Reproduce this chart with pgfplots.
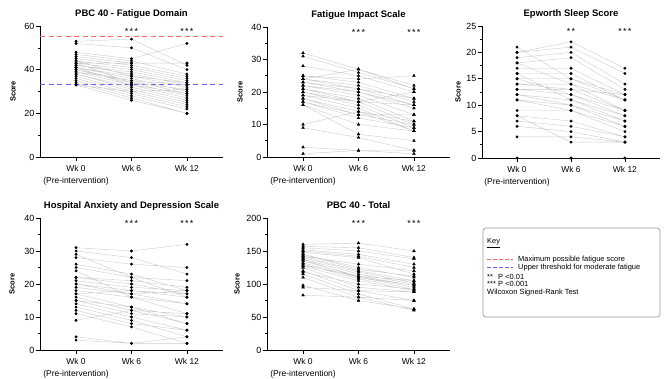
\documentclass[border=0pt]{standalone}
\usepackage{xcolor}
\usepackage{pgfplots}
\pgfplotsset{compat=1.18}
\usepackage{fontspec}
\setmainfont{Liberation Sans}
\begin{document}
\begin{tikzpicture}
\tikzset{stars/.style={anchor=base, font=\fontsize{9}{10}\selectfont}}
\pgfplotsset{
  every axis/.append style={
    scale only axis, axis lines*=left, clip=false,
    anchor=south west,
    xmin=-0.65, xmax=2.65, ymin=0,
    xtick={0,1,2},
    xticklabels={{Wk 0\\(Pre-intervention)},{Wk 6},{Wk 12}},
    xticklabel style={align=center, font=\fontsize{8.5}{12.5}\selectfont, inner sep=1.5bp, yshift=-2.5bp},
    yticklabel style={font=\fontsize{9}{10}\selectfont, inner sep=1.5bp},
    ylabel={Score},
    ylabel style={font=\bfseries\fontsize{7.5}{9}\selectfont, at={(rel axis cs:0,0.5)}, anchor=center},
    title style={font=\bfseries\fontsize{9.5}{11}\selectfont, at={(0.5,1)}, anchor=base, yshift=3.5bp},
    tick align=outside, major tick length=4bp, minor tick length=2bp,
    minor y tick num=1,
    tick style={black, line width=0.6bp},
    axis line style={black, line width=0.8bp},
    /pgf/number format/assume math mode=true,
    unbounded coords=jump,
  },
  ylab/.style={ylabel style={yshift=#1}},
  subjc/.style={black!20, line width=0.4bp, mark=*, mark size=1.25bp, mark options={draw=black, fill=black, solid}},
  subjt/.style={black!20, line width=0.4bp, mark=triangle*, mark size=1.6bp, mark options={draw=black, fill=black, solid}},
}
\path[use as bounding box] (0,0) rectangle (664bp,379bp);

% ---------- Panel 1 ----------
\begin{axis}[at={(40bp,222bp)}, width=183bp, height=131bp,
  ymax=60, ytick={0,20,40,60}, title={PBC 40 - Fatigue Domain}, ylab=27bp]
\addplot[red!60, line width=0.9bp, dash pattern=on 5bp off 3.5bp] coordinates {(-0.65,55) (2.65,55)};
\addplot[blue!60, line width=0.9bp, dash pattern=on 5bp off 3.5bp] coordinates {(-0.65,33) (2.65,33)};
\addplot[subjc] coordinates {
(0,53) (1,54) (2,42) (0,nan)
(0,52) (1,50) (2,40) (0,nan)
(0,48) (1,45) (2,52) (0,nan)
(0,47) (1,44) (2,38) (0,nan)
(0,46) (1,43) (2,43) (0,nan)
(0,45) (1,42) (2,37) (0,nan)
(0,44) (1,41) (2,36) (0,nan)
(0,43) (1,43) (2,43) (0,nan)
(0,43) (1,40) (2,35) (0,nan)
(0,42) (1,39) (2,34) (0,nan)
(0,42) (1,38) (2,33) (0,nan)
(0,41) (1,37) (2,32) (0,nan)
(0,41) (1,36) (2,30) (0,nan)
(0,40) (1,35) (2,29) (0,nan)
(0,40) (1,34) (2,28) (0,nan)
(0,39) (1,33) (2,27) (0,nan)
(0,38) (1,32) (2,26) (0,nan)
(0,38) (1,31) (2,25) (0,nan)
(0,37) (1,30) (2,24) (0,nan)
(0,36) (1,29) (2,23) (0,nan)
(0,35) (1,28) (2,22) (0,nan)
(0,34) (1,27) (2,20) (0,nan)
(0,33) (1,26) (2,20) (0,nan)
(0,33) (1,30) (2,31) (0,nan)
(0,44) (1,37) (2,34) (0,nan)
(0,43) (1,34) (2,31) (0,nan)
(0,41) (1,33) (2,29) (0,nan)
(0,39) (1,35) (2,33) (0,nan)
};
\node[stars] at (axis cs:1,56.2) {*\hspace{1.3bp}*\hspace{1.3bp}*};
\node[stars] at (axis cs:2,56.2) {*\hspace{1.3bp}*\hspace{1.3bp}*};
\end{axis}

% ---------- Panel 2 ----------
\begin{axis}[at={(267bp,222bp)}, width=183bp, height=130bp,
  ymax=40, ytick={0,10,20,30,40}, title={Fatigue Impact Scale}, ylab=27bp]
\addplot[subjt] coordinates {
(0,32) (1,27) (2,22) (0,nan)
(0,31) (1,26) (2,21) (0,nan)
(0,28) (1,25) (2,20) (0,nan)
(0,25) (1,24) (2,25) (0,nan)
(0,25) (1,23) (2,18) (0,nan)
(0,24) (1,22) (2,17) (0,nan)
(0,24) (1,21) (2,16) (0,nan)
(0,23) (1,20) (2,16) (0,nan)
(0,22) (1,20) (2,15) (0,nan)
(0,22) (1,19) (2,13) (0,nan)
(0,21) (1,18) (2,11) (0,nan)
(0,20) (1,17) (2,10) (0,nan)
(0,20) (1,16) (2,9) (0,nan)
(0,19) (1,15) (2,8) (0,nan)
(0,18) (1,14) (2,8) (0,nan)
(0,18) (1,13) (2,10) (0,nan)
(0,17) (1,12) (2,9) (0,nan)
(0,16) (1,10) (2,8) (0,nan)
(0,16) (1,7) (2,5) (0,nan)
(0,10) (1,14) (2,11) (0,nan)
(0,9) (1,6) (2,2) (0,nan)
(0,3) (1,2) (2,1) (0,nan)
(0,1) (1,2) (2,2) (0,nan)
(0,21) (1,17) (2,20) (0,nan)
(0,23) (1,21) (2,18) (0,nan)
(0,19) (1,17) (2,16) (0,nan)
(0,17) (1,13) (2,13) (0,nan)
(0,24) (1,27) (2,21) (0,nan)
};
\node[stars] at (axis cs:1,37.4) {*\hspace{1.3bp}*\hspace{1.3bp}*};
\node[stars] at (axis cs:2,37.4) {*\hspace{1.3bp}*\hspace{1.3bp}*};
\end{axis}

% ---------- Panel 3 ----------
\begin{axis}[at={(482bp,221bp)}, width=178bp, height=132bp,
  ymax=25, ytick={0,5,10,15,20,25}, title={Epworth Sleep Score}, ylab=24bp]
\addplot[subjc] coordinates {
(0,21) (1,15) (2,12) (0,nan)
(0,20) (1,22) (2,17) (0,nan)
(0,20) (1,21) (2,16) (0,nan)
(0,19) (1,20) (2,14) (0,nan)
(0,18) (1,19) (2,13) (0,nan)
(0,17) (1,17) (2,12) (0,nan)
(0,16) (1,16) (2,11) (0,nan)
(0,15) (1,15) (2,11) (0,nan)
(0,14) (1,14) (2,9) (0,nan)
(0,13) (1,13) (2,9) (0,nan)
(0,13) (1,12) (2,8) (0,nan)
(0,12) (1,11) (2,7) (0,nan)
(0,11) (1,10) (2,6) (0,nan)
(0,9) (1,9) (2,5) (0,nan)
(0,8) (1,7) (2,4) (0,nan)
(0,7) (1,6) (2,4) (0,nan)
(0,6) (1,5) (2,3) (0,nan)
(0,4) (1,4) (2,3) (0,nan)
(0,0) (1,0) (2,0) (0,nan)
(0,16) (1,11) (2,8) (0,nan)
(0,14) (1,13) (2,12) (0,nan)
(0,11) (1,9) (2,6) (0,nan)
(0,8) (1,3) (2,3) (0,nan)
(0,18) (1,14) (2,11) (0,nan)
(0,12) (1,10) (2,7) (0,nan)
(0,15) (1,12) (2,9) (0,nan)
};
\node[stars] at (axis cs:1,23.4) {*\hspace{1.3bp}*};
\node[stars] at (axis cs:2,23.4) {*\hspace{1.3bp}*\hspace{1.3bp}*};
\end{axis}

% ---------- Panel 4 ----------
\begin{axis}[at={(40bp,29bp)}, width=183bp, height=132bp,
  ymax=40, ytick={0,10,20,30,40}, title={Hospital Anxiety and Depression Scale}, ylab=28bp]
\addplot[subjc] coordinates {
(0,31) (1,30) (2,32) (0,nan)
(0,30) (1,28) (2,23) (0,nan)
(0,28) (1,26) (2,25) (0,nan)
(0,26) (1,23) (2,18) (0,nan)
(0,25) (1,22) (2,21) (0,nan)
(0,22) (1,21) (2,19) (0,nan)
(0,22) (1,20) (2,17) (0,nan)
(0,21) (1,19) (2,18) (0,nan)
(0,20) (1,18) (2,16) (0,nan)
(0,19) (1,17) (2,14) (0,nan)
(0,18) (1,16) (2,11) (0,nan)
(0,17) (1,13) (2,10) (0,nan)
(0,16) (1,12) (2,8) (0,nan)
(0,15) (1,11) (2,10) (0,nan)
(0,14) (1,10) (2,6) (0,nan)
(0,13) (1,9) (2,4) (0,nan)
(0,12) (1,8) (2,6) (0,nan)
(0,11) (1,7) (2,2) (0,nan)
(0,9) (1,12) (2,11) (0,nan)
(0,4) (1,2) (2,2) (0,nan)
(0,3) (1,2) (2,4) (0,nan)
(0,20) (1,17) (2,18) (0,nan)
(0,17) (1,18) (2,17) (0,nan)
(0,29) (1,22) (2,16) (0,nan)
(0,24) (1,16) (2,14) (0,nan)
(0,15) (1,13) (2,8) (0,nan)
};
\node[stars] at (axis cs:1,37.45) {*\hspace{1.3bp}*\hspace{1.3bp}*};
\node[stars] at (axis cs:2,37.45) {*\hspace{1.3bp}*\hspace{1.3bp}*};
\end{axis}

% ---------- Panel 5 ----------
\begin{axis}[at={(267bp,29bp)}, width=183bp, height=132bp,
  ymax=200, ytick={0,50,100,150,200}, title={PBC 40 - Total}, ylab=30bp]
\addplot[subjt] coordinates {
(0,160) (1,162) (2,150) (0,nan)
(0,157) (1,155) (2,140) (0,nan)
(0,155) (1,150) (2,138) (0,nan)
(0,152) (1,145) (2,130) (0,nan)
(0,150) (1,142) (2,125) (0,nan)
(0,148) (1,140) (2,115) (0,nan)
(0,145) (1,125) (2,110) (0,nan)
(0,142) (1,120) (2,105) (0,nan)
(0,140) (1,118) (2,102) (0,nan)
(0,138) (1,115) (2,100) (0,nan)
(0,135) (1,112) (2,98) (0,nan)
(0,132) (1,110) (2,95) (0,nan)
(0,130) (1,108) (2,92) (0,nan)
(0,127) (1,105) (2,90) (0,nan)
(0,125) (1,95) (2,88) (0,nan)
(0,120) (1,90) (2,75) (0,nan)
(0,115) (1,85) (2,62) (0,nan)
(0,110) (1,80) (2,60) (0,nan)
(0,98) (1,75) (2,62) (0,nan)
(0,95) (1,90) (2,88) (0,nan)
(0,83) (1,80) (2,75) (0,nan)
(0,145) (1,122) (2,112) (0,nan)
(0,137) (1,110) (2,98) (0,nan)
(0,128) (1,112) (2,105) (0,nan)
(0,142) (1,130) (2,120) (0,nan)
(0,118) (1,100) (2,92) (0,nan)
};
\node[stars] at (axis cs:1,187.3) {*\hspace{1.3bp}*\hspace{1.3bp}*};
\node[stars] at (axis cs:2,187.3) {*\hspace{1.3bp}*\hspace{1.3bp}*};
\end{axis}

% ---------- Key box ----------
\draw[black!40, line width=0.7bp, rounded corners=3bp] (483bp,151bp) rectangle (660bp,62bp);
\begin{axis}[at={(487bp,108bp)}, width=26bp, height=14bp, hide axis,
  xmin=0, xmax=1, ymin=0, ymax=1, ylabel={}, title={}, xticklabels={}]
\addplot[red!60, line width=0.9bp, dash pattern=on 3.5bp off 2.5bp] coordinates {(0,0.857) (1,0.857)};
\addplot[blue!60, line width=0.9bp, dash pattern=on 3.5bp off 2.5bp] coordinates {(0,0.286) (1,0.286)};
\end{axis}
\node[anchor=base west, inner sep=0pt, font=\fontsize{7.5}{8.5}\selectfont] at (487bp,135bp) {\underline{Key}};
\node[anchor=base west, inner sep=0pt, font=\fontsize{7.5}{8.5}\selectfont] at (518bp,117.5bp) {Maximum possible fatigue score};
\node[anchor=base west, inner sep=0pt, font=\fontsize{7.5}{8.5}\selectfont] at (518bp,109.5bp) {Upper threshold for moderate fatigue};
\node[anchor=base west, inner sep=0pt, font=\fontsize{7.5}{8.5}\selectfont] at (487bp,99.5bp) {**};
\node[anchor=base west, inner sep=0pt, font=\fontsize{7.5}{8.5}\selectfont] at (498bp,99.5bp) {P <0.01};
\node[anchor=base west, inner sep=0pt, font=\fontsize{7.5}{8.5}\selectfont] at (487bp,92bp) {***};
\node[anchor=base west, inner sep=0pt, font=\fontsize{7.5}{8.5}\selectfont] at (498bp,92bp) {P <0.001};
\node[anchor=base west, inner sep=0pt, font=\fontsize{7.5}{8.5}\selectfont] at (487bp,84.5bp) {Wilcoxon Signed-Rank Test};
\end{tikzpicture}
\end{document}
